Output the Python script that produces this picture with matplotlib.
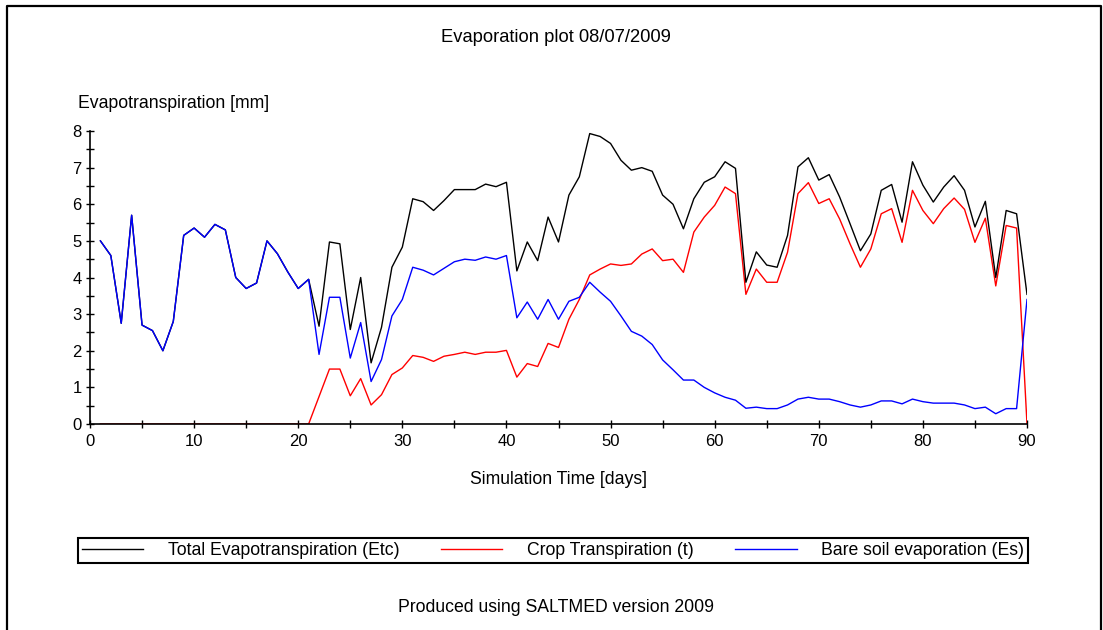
import matplotlib
matplotlib.use("Agg")
import matplotlib.pyplot as plt
from matplotlib.lines import Line2D
from matplotlib.ticker import MultipleLocator

plt.rcParams['font.family'] = ['Liberation Sans', 'DejaVu Sans']

days = list(range(1, 91))

bare_soil = [5.0, 4.6, 2.75, 5.7, 2.7, 2.55, 2.0, 2.8, 5.15, 5.35,
             5.1, 5.45, 5.3, 4.0, 3.7, 3.85, 5.0, 4.65, 4.15, 3.7,
             3.95, 1.9, 3.46, 3.46, 1.8, 2.77, 1.16, 1.76, 2.95, 3.4,
             4.28, 4.2, 4.07, 4.25, 4.43, 4.5, 4.47, 4.56, 4.5, 4.6,
             2.9, 3.33, 2.86, 3.4, 2.86, 3.35, 3.46, 3.87, 3.6, 3.35,
             2.95, 2.53, 2.4, 2.17, 1.75, 1.48, 1.2, 1.2, 1.0, 0.85,
             0.73, 0.65, 0.43, 0.46, 0.42, 0.42, 0.52, 0.68, 0.73, 0.68,
             0.68, 0.61, 0.52, 0.46, 0.52, 0.63, 0.63, 0.55, 0.68, 0.61,
             0.57, 0.57, 0.57, 0.52, 0.42, 0.46, 0.28, 0.42, 0.42, 3.4]

crop = [0, 0, 0, 0, 0, 0, 0, 0, 0, 0,
        0, 0, 0, 0, 0, 0, 0, 0, 0, 0,
        0, 0.75, 1.5, 1.5, 0.77, 1.24, 0.52, 0.8, 1.35, 1.53,
        1.87, 1.82, 1.71, 1.85, 1.9, 1.96, 1.9, 1.96, 1.96, 2.01,
        1.28, 1.65, 1.57, 2.2, 2.09, 2.86, 3.4, 4.07, 4.23, 4.37,
        4.33, 4.37, 4.64, 4.78, 4.46, 4.5, 4.14, 5.24, 5.65, 5.97,
        6.47, 6.29, 3.54, 4.23, 3.87, 3.87, 4.69, 6.29, 6.59, 6.02,
        6.15, 5.6, 4.92, 4.28, 4.78, 5.74, 5.88, 4.96, 6.38, 5.83,
        5.47, 5.88, 6.17, 5.86, 4.96, 5.62, 3.77, 5.42, 5.35, 0]

total = [5.0, 4.6, 2.75, 5.7, 2.7, 2.55, 2.0, 2.8, 5.15, 5.35,
         5.1, 5.45, 5.3, 4.0, 3.7, 3.85, 5.0, 4.65, 4.15, 3.7,
         3.95, 2.67, 4.97, 4.92, 2.58, 4.0, 1.67, 2.64, 4.28, 4.83,
         6.15, 6.07, 5.83, 6.1, 6.4, 6.4, 6.4, 6.55, 6.48, 6.6,
         4.18, 4.97, 4.46, 5.65, 4.97, 6.25, 6.75, 7.93, 7.85, 7.66,
         7.2, 6.93, 7.0, 6.9, 6.25, 6.0, 5.33, 6.15, 6.6, 6.75,
         7.16, 6.98, 3.87, 4.7, 4.34, 4.28, 5.15, 7.02, 7.27, 6.66,
         6.81, 6.2, 5.47, 4.73, 5.19, 6.38, 6.54, 5.51, 7.16, 6.52,
         6.06, 6.47, 6.78, 6.38, 5.38, 6.08, 4.0, 5.83, 5.74, 3.54]

W, H = 1103, 630
fig = plt.figure(figsize=(W / 100, H / 100), dpi=100)
ax = fig.add_axes([90 / W, 1 - 424 / H, 937 / W, 293 / H])

ax.plot(days, crop, color='#ff0000', lw=1.0, zorder=2, label='Crop Transpiration (t)')
ax.plot(days, total, color='black', lw=1.0, zorder=3, label='Total Evapotranspiration (Etc)')
ax.plot(days, bare_soil, color='#0000ff', lw=1.0, zorder=4, label='Bare soil evaporation (Es)')

ax.set_xlim(0, 90)
ax.set_ylim(0, 8)
ax.xaxis.set_major_locator(MultipleLocator(10))
ax.xaxis.set_minor_locator(MultipleLocator(5))
ax.yaxis.set_major_locator(MultipleLocator(1))
ax.yaxis.set_minor_locator(MultipleLocator(0.5))
ax.tick_params(which='both', direction='inout', length=6, width=1, labelsize=12, color='black')
ax.tick_params(axis='x', pad=4)
ax.tick_params(axis='y', pad=3)
for s in ['top', 'right']:
    ax.spines[s].set_visible(False)
for s in ['left', 'bottom']:
    ax.spines[s].set_linewidth(1.2)
    ax.spines[s].set_zorder(5)

fs = 12.7
fig.text(556 / W, 1 - 37 / H, 'Evaporation plot 08/07/2009', ha='center', va='center', fontsize=13.2)
fig.text(78 / W, 1 - 103 / H, 'Evapotranspiration [mm]', ha='left', va='center', fontsize=fs)
fig.text(558 / W, 1 - 479 / H, 'Simulation Time [days]', ha='center', va='center', fontsize=fs)
fig.text(556 / W, 1 - 607 / H, 'Produced using SALTMED version 2009', ha='center', va='center', fontsize=fs)

h, l = ax.get_legend_handles_labels()
order = [1, 0, 2]
leg = fig.legend([h[i] for i in order], [l[i] for i in order], ncol=3, mode='expand',
                 bbox_to_anchor=(78 / W, 1 - 564 / H, 950 / W, 27 / H), loc='center',
                 fancybox=False, edgecolor='black', fontsize=fs, handlelength=3.5,
                 handletextpad=1.4, borderpad=0.2, borderaxespad=0, framealpha=1)
leg.get_frame().set_linewidth(1.5)

# outer window frame
fig.add_artist(Line2D([7 / W, 7 / W, 1101 / W, 1101 / W], [0, 1 - 6 / H, 1 - 6 / H, 0],
                      transform=fig.transFigure, color='black', lw=1.6))

fig.savefig('out.png', dpi=100)
